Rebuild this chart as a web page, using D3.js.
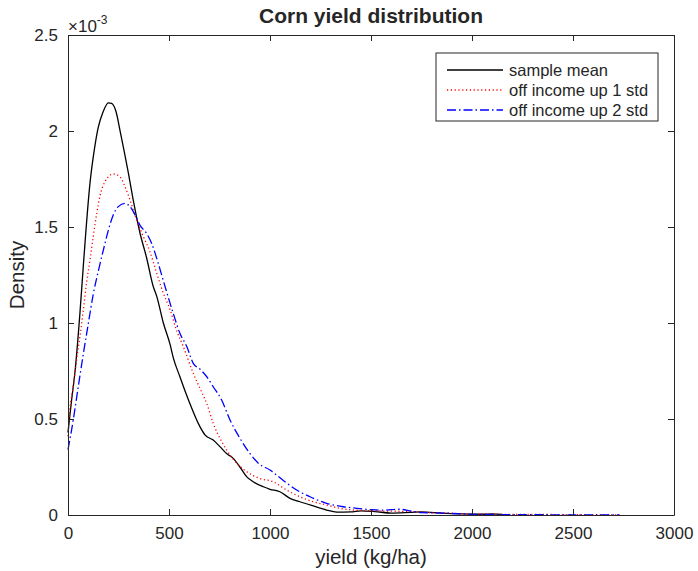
<!DOCTYPE html>
<html>
<head>
<meta charset="utf-8">
<script src="https://cdn.jsdelivr.net/npm/d3@7"></script>
<style>
  body { margin: 0; background: #fff; }
  text { font-family: "Liberation Sans", Arial, sans-serif; fill: #262626; }
</style>
</head>
<body>
<svg id="chart" width="698" height="571"></svg>
<script>
// yield (kg/ha) and density (x 1e-3)
var meanX = [0, 18, 35, 59, 76, 109, 130, 150, 172, 200, 216, 238, 257, 277, 299, 323, 356, 389, 422, 439,
  472, 505, 521, 554, 596, 653, 678, 719, 752, 785, 818, 851, 884, 917, 967, 1000, 1049, 1099, 1148, 1214,
  1280, 1330, 1400, 1450, 1520, 1600, 1700, 1750, 1850, 1950, 2050, 2100, 2150];
var meanY = [0.43, 0.6, 0.75, 1.05, 1.3, 1.73, 1.9, 2.02, 2.095, 2.147, 2.144, 2.1, 2.005, 1.9, 1.78, 1.64, 1.47, 1.34, 1.19, 1.14,
  1.0, 0.89, 0.82, 0.72, 0.6, 0.46, 0.417, 0.39, 0.356, 0.32, 0.295, 0.25, 0.2, 0.173, 0.147, 0.134, 0.121, 0.087, 0.069, 0.047,
  0.026, 0.015, 0.016, 0.022, 0.018, 0.01, 0.014, 0.016, 0.01, 0.006, 0.004, 0.006, 0.003];

var up1X = [0, 6, 26, 43, 59, 76, 92, 109, 125, 142, 158, 183, 224, 257, 282, 307, 340, 373, 406, 439,
  472, 505, 538, 571, 620, 662, 687, 719, 752, 785, 835, 884, 950, 1016, 1082, 1148, 1214, 1280, 1346, 1412,
  1500, 1600, 1700, 1800, 1900, 2000, 2100, 2300, 2500, 2730];
var up1Y = [0.41, 0.51, 0.67, 0.81, 0.93, 1.07, 1.21, 1.33, 1.45, 1.57, 1.66, 1.736, 1.776, 1.762, 1.71, 1.64, 1.536, 1.45, 1.37, 1.26,
  1.155, 1.07, 0.96, 0.877, 0.738, 0.64, 0.58, 0.477, 0.4, 0.339, 0.27, 0.226, 0.19, 0.173, 0.13, 0.095, 0.069, 0.052, 0.035, 0.026,
  0.022, 0.02, 0.018, 0.012, 0.009, 0.005, 0.004, 0.003, 0.002, 0.001];

var up2X = [0, 26, 51, 76, 101, 125, 150, 175, 200, 224, 249, 282, 307, 332, 356, 389, 414, 447, 472, 521,
  554, 587, 620, 653, 687, 719, 760, 802, 851, 901, 942, 1000, 1066, 1132, 1198, 1280, 1363, 1429, 1500, 1560,
  1640, 1700, 1750, 1850, 1950, 2050, 2200, 2500, 2730];
var up2Y = [0.34, 0.495, 0.67, 0.84, 1.0, 1.15, 1.27, 1.38, 1.484, 1.5625, 1.606, 1.623, 1.606, 1.5625, 1.51, 1.467, 1.415, 1.31, 1.22, 1.05,
  0.946, 0.88, 0.79, 0.76, 0.72, 0.668, 0.6, 0.495, 0.4, 0.32, 0.27, 0.234, 0.18, 0.13, 0.095, 0.061, 0.043, 0.035, 0.028, 0.025,
  0.03, 0.02, 0.012, 0.01, 0.006, 0.003, 0.002, 0.001, 0.001];

var seriesNames = ['sample mean', 'off income up 1 std', 'off income up 2 std'];
var seriesColors = ['#000000', '#ff0000', '#0000ff'];
var seriesDash = [null, '1.2,2.6', '9,3,1.5,3'];
var xTicks = [0, 500, 1000, 1500, 2000, 2500, 3000];
var yTicks = [0, 0.5, 1, 1.5, 2, 2.5];

var svg = d3.select('#chart');
var plotLeft = 68, plotRight = 674, plotTop = 35, plotBottom = 515;
var axisColor = '#262626';

var x = d3.scaleLinear().domain([0, 3000]).range([plotLeft, plotRight]);
var y = d3.scaleLinear().domain([0, 2.5]).range([plotBottom, plotTop]);

var series = [
  {x: meanX, y: meanY},
  {x: up1X, y: up1Y},
  {x: up2X, y: up2Y}
];

var line = d3.line()
    .x(function(d) { return x(d[0]); })
    .y(function(d) { return y(d[1]); })
    .curve(d3.curveMonotoneX);

var plot = svg.append('g');
series.forEach(function(s, i) {
  var pts = s.x.map(function(v, j) { return [v, s.y[j]]; });
  plot.append('path')
      .attr('d', line(pts))
      .attr('fill', 'none')
      .attr('stroke', seriesColors[i])
      .attr('stroke-width', 1.3)
      .attr('stroke-dasharray', seriesDash[i]);
});

// box axes, ticks pointing in
var fmt = function(d) { return String(d); };
var bottomAxis = d3.axisBottom(x).tickValues(xTicks).tickSizeInner(-6).tickSizeOuter(0).tickPadding(12).tickFormat(fmt);
var leftAxis = d3.axisLeft(y).tickValues(yTicks).tickSizeInner(-6).tickSizeOuter(0).tickPadding(10).tickFormat(fmt);
var topAxis = d3.axisTop(x).tickValues(xTicks).tickSizeInner(-6).tickSizeOuter(0).tickFormat('');
var rightAxis = d3.axisRight(y).tickValues(yTicks).tickSizeInner(-6).tickSizeOuter(0).tickFormat('');

function styleAxis(g) {
  g.select('.domain').attr('stroke', axisColor).attr('stroke-width', 1);
  g.selectAll('.tick line').attr('stroke', axisColor);
  g.selectAll('.tick text').style('font-family', '"Liberation Sans", Arial, sans-serif')
      .style('font-size', '17px').attr('fill', axisColor);
}

svg.append('g').attr('transform', 'translate(0,' + plotBottom + ')').call(bottomAxis).call(styleAxis);
svg.append('g').attr('transform', 'translate(' + plotLeft + ',0)').call(leftAxis).call(styleAxis);
svg.append('g').attr('transform', 'translate(0,' + plotTop + ')').call(topAxis).call(styleAxis);
svg.append('g').attr('transform', 'translate(' + plotRight + ',0)').call(rightAxis).call(styleAxis);

// exponent label
var expo = svg.append('text').attr('x', plotLeft).attr('y', 32).style('font-size', '17px');
expo.append('tspan').text('\u00d710');
expo.append('tspan').attr('dy', -8).style('font-size', '12px').text('-3');

svg.append('text')
    .attr('x', (plotLeft + plotRight) / 2).attr('y', 23)
    .attr('text-anchor', 'middle')
    .style('font-size', '21px').style('font-weight', 'bold')
    .attr('fill', '#000')
    .text('Corn yield distribution');

svg.append('text')
    .attr('x', (plotLeft + plotRight) / 2).attr('y', 564)
    .attr('text-anchor', 'middle')
    .style('font-size', '20.5px')
    .text('yield (kg/ha)');

svg.append('text')
    .attr('transform', 'translate(24,' + ((plotTop + plotBottom) / 2) + ') rotate(-90)')
    .attr('text-anchor', 'middle')
    .style('font-size', '20.5px')
    .text('Density');

// legend
var legend = svg.append('g').attr('transform', 'translate(436,53)');
legend.append('rect')
    .attr('width', 222).attr('height', 68)
    .attr('fill', '#fff').attr('stroke', axisColor).attr('stroke-width', 1);
seriesNames.forEach(function(name, i) {
  var yy = 17 + i * 20;
  legend.append('line')
      .attr('x1', 11).attr('x2', 67).attr('y1', yy).attr('y2', yy)
      .attr('stroke', seriesColors[i]).attr('stroke-width', 1.3)
      .attr('stroke-dasharray', seriesDash[i]);
  legend.append('text')
      .attr('x', 73).attr('y', yy + 6)
      .style('font-size', '16.5px').attr('fill', '#000')
      .text(name);
});
</script>
</body>
</html>
